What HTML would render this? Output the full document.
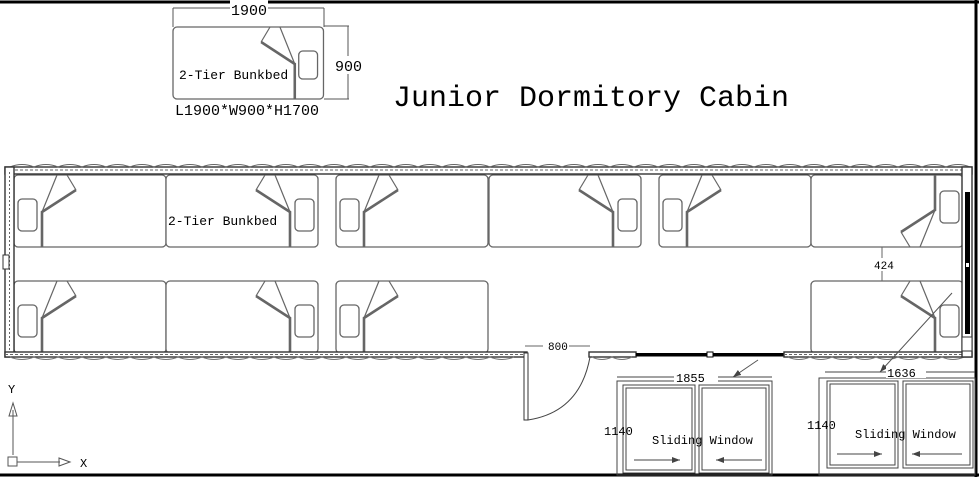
<!DOCTYPE html>
<html><head><meta charset="utf-8"><style>
html,body{margin:0;padding:0;background:#fff;}
svg{display:block;}
text{font-family:"Liberation Mono",monospace;fill:#000;}
</style></head><body>
<svg width="979" height="477" viewBox="0 0 979 477" xmlns="http://www.w3.org/2000/svg">
<defs>
<g id="bedL">
  <rect x="0" y="0" width="152" height="72" rx="4" fill="#fff" stroke="#666" stroke-width="1.3"/>
  <rect x="4" y="24" width="19" height="32" rx="4" fill="none" stroke="#666" stroke-width="1.3"/>
  <polyline points="28,72 28,37 62,15" fill="none" stroke="#666" stroke-width="2.6"/>
  <line x1="62" y1="15" x2="53" y2="0" stroke="#666" stroke-width="1.2"/>
  <line x1="43" y1="0" x2="28" y2="37" stroke="#666" stroke-width="1.2"/>
</g>
<g id="bedR"><use href="#bedL" transform="translate(152,0) scale(-1,1)"/></g>
<g id="bedRf"><use href="#bedL" transform="translate(152,72) scale(-1,-1)"/></g>
<marker id="ah" markerWidth="8" markerHeight="6" refX="8" refY="3" orient="auto" markerUnits="userSpaceOnUse">
  <path d="M0 0 L8 3 L0 6 Z" fill="#444"/>
</marker>
</defs>

<!-- frame -->
<line x1="0" y1="2" x2="979" y2="2" stroke="#000" stroke-width="3"/>
<line x1="976" y1="0" x2="976" y2="477" stroke="#000" stroke-width="3"/>
<line x1="0" y1="475" x2="979" y2="475" stroke="#000" stroke-width="3"/>

<!-- header bunkbed -->
<line x1="173" y1="8" x2="324" y2="8" stroke="#555"/>
<line x1="173" y1="8" x2="173" y2="27" stroke="#555"/>
<line x1="324" y1="8" x2="324" y2="27" stroke="#555"/>
<rect x="230" y="0" width="38" height="16" fill="#fff"/>
<text x="231" y="15" font-size="15">1900</text>
<line x1="324" y1="26" x2="349" y2="26" stroke="#555"/>
<line x1="324" y1="99" x2="349" y2="99" stroke="#555"/>
<line x1="348" y1="26" x2="348" y2="99" stroke="#555"/>
<rect x="334" y="56" width="28" height="18" fill="#fff"/>
<text x="335" y="71" font-size="15">900</text>
<g transform="translate(173,27) scale(0.99,1.0)">
  <rect x="0" y="0" width="152" height="72" rx="4" fill="#fff" stroke="#666" stroke-width="1.3"/>
  <rect x="127" y="24" width="19" height="28" rx="4" fill="none" stroke="#666" stroke-width="1.3"/>
  <polyline points="123,72 123,37 89,15" fill="none" stroke="#666" stroke-width="2.6"/>
  <line x1="89" y1="15" x2="98" y2="0" stroke="#666" stroke-width="1.2"/>
  <line x1="108" y1="0" x2="123" y2="37" stroke="#666" stroke-width="1.2"/>
</g>
<text x="179" y="79" font-size="13">2-Tier Bunkbed</text>
<text x="175" y="115" font-size="15">L1900*W900*H1700</text>

<text x="393" y="106" font-size="30">Junior Dormitory Cabin</text>

<!-- beds top row -->
<use href="#bedL" x="14" y="175"/>
<use href="#bedR" x="166" y="175"/>
<use href="#bedL" x="336" y="175"/>
<use href="#bedR" x="489" y="175"/>
<use href="#bedL" x="659" y="175"/>
<use href="#bedRf" x="811" y="175"/>
<!-- bottom row -->
<use href="#bedL" x="14" y="281"/>
<use href="#bedR" x="166" y="281"/>
<use href="#bedL" x="336" y="281"/>
<use href="#bedR" x="811" y="281"/>
<text x="168" y="225" font-size="13">2-Tier Bunkbed</text>

<!-- 424 dim -->
<line x1="882" y1="247" x2="882" y2="281" stroke="#666"/>
<rect x="873" y="258" width="22" height="13" fill="#fff"/>
<text x="874" y="269" font-size="11" fill="#333">424</text>

<!-- walls -->
<rect x="5" y="167" width="967" height="7" fill="#fff" stroke="#333" stroke-width="1.4"/>
<line x1="5" y1="170" x2="972" y2="170" stroke="#666" stroke-dasharray="3,2"/>
<path d="M10 167 q12 -5 24 0 q12 -5 24 0 q12 -5 24 0 q12 -5 24 0 q12 -5 24 0 q12 -5 24 0 q12 -5 24 0 q12 -5 24 0 q12 -5 24 0 q12 -5 24 0 q12 -5 24 0 q12 -5 24 0 q12 -5 24 0 q12 -5 24 0 q12 -5 24 0 q12 -5 24 0 q12 -5 24 0 q12 -5 24 0 q12 -5 24 0 q12 -5 24 0 q12 -5 24 0 q12 -5 24 0 q12 -5 24 0 q12 -5 24 0 q12 -5 24 0 q12 -5 24 0 q12 -5 24 0 q12 -5 24 0 q12 -5 24 0 q12 -5 24 0 q12 -5 24 0 q12 -5 24 0 q12 -5 24 0 q12 -5 24 0 q12 -5 24 0 q12 -5 24 0 q12 -5 24 0 q12 -5 24 0 q12 -5 24 0 q12 -5 24 0" fill="none" stroke="#666"/>
<rect x="5" y="167" width="9" height="190" fill="#fff" stroke="#333" stroke-width="1.4"/>
<line x1="9.5" y1="172" x2="9.5" y2="352" stroke="#666" stroke-dasharray="2,2"/>
<rect x="3" y="255" width="6" height="14" fill="#fff" stroke="#333"/>
<!-- bottom wall segments -->
<rect x="5" y="352" width="522" height="5" fill="#fff" stroke="#333" stroke-width="1.4"/>
<line x1="5" y1="354.5" x2="527" y2="354.5" stroke="#666" stroke-dasharray="3,2"/>
<path d="M10 357 q12 5 24 0 q12 5 24 0 q12 5 24 0 q12 5 24 0 q12 5 24 0 q12 5 24 0 q12 5 24 0 q12 5 24 0 q12 5 24 0 q12 5 24 0 q12 5 24 0 q12 5 24 0 q12 5 24 0 q12 5 24 0 q12 5 24 0 q12 5 24 0 q12 5 24 0 q12 5 24 0 q12 5 24 0 q12 5 24 0 q12 5 24 0" fill="none" stroke="#777"/>
<rect x="589" y="352" width="47" height="5" fill="#fff" stroke="#333" stroke-width="1.4"/>
<path d="M592 357 q10 5 20 0 q10 5 20 0" fill="none" stroke="#777"/>
<rect x="636" y="353" width="148" height="3.5" fill="#000"/>
<rect x="707" y="352" width="6" height="5" fill="#fff" stroke="#000"/>
<rect x="784" y="352" width="188" height="5" fill="#fff" stroke="#333" stroke-width="1.4"/>
<line x1="784" y1="354.5" x2="972" y2="354.5" stroke="#666" stroke-dasharray="3,2"/>
<path d="M788 357 q11 5 22 0 q11 5 22 0 q11 5 22 0 q11 5 22 0 q11 5 22 0 q11 5 22 0 q11 5 22 0 q11 5 22 0" fill="none" stroke="#777"/>
<!-- right wall -->
<rect x="962" y="167" width="10" height="190" fill="#fff" stroke="#333" stroke-width="1.4"/>
<rect x="965" y="192" width="5" height="142" fill="#000"/>
<rect x="966" y="263" width="3" height="4" fill="#fff"/>
<rect x="962" y="337" width="10" height="14" fill="#fff" stroke="#333"/>

<!-- door -->
<rect x="524" y="353" width="4" height="67" fill="#fff" stroke="#333"/>
<path d="M528 420 Q580 412 590 357" fill="none" stroke="#444"/>
<line x1="525" y1="346" x2="590" y2="346" stroke="#666"/>
<rect x="543" y="340" width="26" height="12" fill="#fff"/>
<text x="548" y="350" font-size="11" fill="#333">800</text>

<!-- leaders -->
<line x1="758" y1="360" x2="733" y2="377" stroke="#555" marker-end="url(#ah)"/>
<line x1="952" y1="293" x2="880" y2="372" stroke="#555" marker-end="url(#ah)"/>

<!-- window 1 -->
<line x1="617" y1="377" x2="772" y2="377" stroke="#444"/>
<rect x="617" y="381" width="155" height="94" fill="none" stroke="#444"/>
<rect x="623" y="385" width="72" height="88" fill="none" stroke="#444"/>
<rect x="626" y="388" width="66" height="82" fill="none" stroke="#444"/>
<rect x="699" y="385" width="70" height="88" fill="none" stroke="#444"/>
<rect x="702" y="388" width="64" height="82" fill="none" stroke="#444"/>
<rect x="674" y="371" width="44" height="12" fill="#fff"/>
<text x="676" y="382" font-size="12">1855</text>
<text x="604" y="435" font-size="12">1140</text>
<text x="652" y="444" font-size="12">Sliding Window</text>
<line x1="634" y1="460" x2="680" y2="460" stroke="#444" marker-end="url(#ah)"/>
<line x1="762" y1="460" x2="716" y2="460" stroke="#444" marker-end="url(#ah)"/>
<!-- window 2 -->
<line x1="825" y1="372" x2="975" y2="372" stroke="#444"/>
<rect x="819" y="378" width="156" height="97" fill="none" stroke="#444"/>
<rect x="827" y="381" width="71" height="87" fill="none" stroke="#444"/>
<rect x="830" y="384" width="65" height="81" fill="none" stroke="#444"/>
<rect x="903" y="381" width="70" height="87" fill="none" stroke="#444"/>
<rect x="906" y="384" width="64" height="81" fill="none" stroke="#444"/>
<rect x="886" y="366" width="40" height="12" fill="#fff"/>
<text x="887" y="377" font-size="12">1636</text>
<text x="807" y="429" font-size="12">1140</text>
<text x="855" y="438" font-size="12">Sliding Window</text>
<line x1="837" y1="454" x2="882" y2="454" stroke="#444" marker-end="url(#ah)"/>
<line x1="962" y1="454" x2="912" y2="454" stroke="#444" marker-end="url(#ah)"/>

<!-- axes -->
<text x="8" y="393" font-size="12" fill="#555">Y</text>
<line x1="13" y1="455" x2="13" y2="410" stroke="#555"/>
<polygon points="13,403 9,416 17,416" fill="none" stroke="#555"/>
<rect x="8" y="457" width="9" height="9" fill="none" stroke="#555"/>
<line x1="17" y1="462" x2="60" y2="462" stroke="#555"/>
<polygon points="70,462 59,458 59,466" fill="none" stroke="#555"/>
<text x="80" y="467" font-size="12" fill="#555">X</text>
</svg>
</body></html>
